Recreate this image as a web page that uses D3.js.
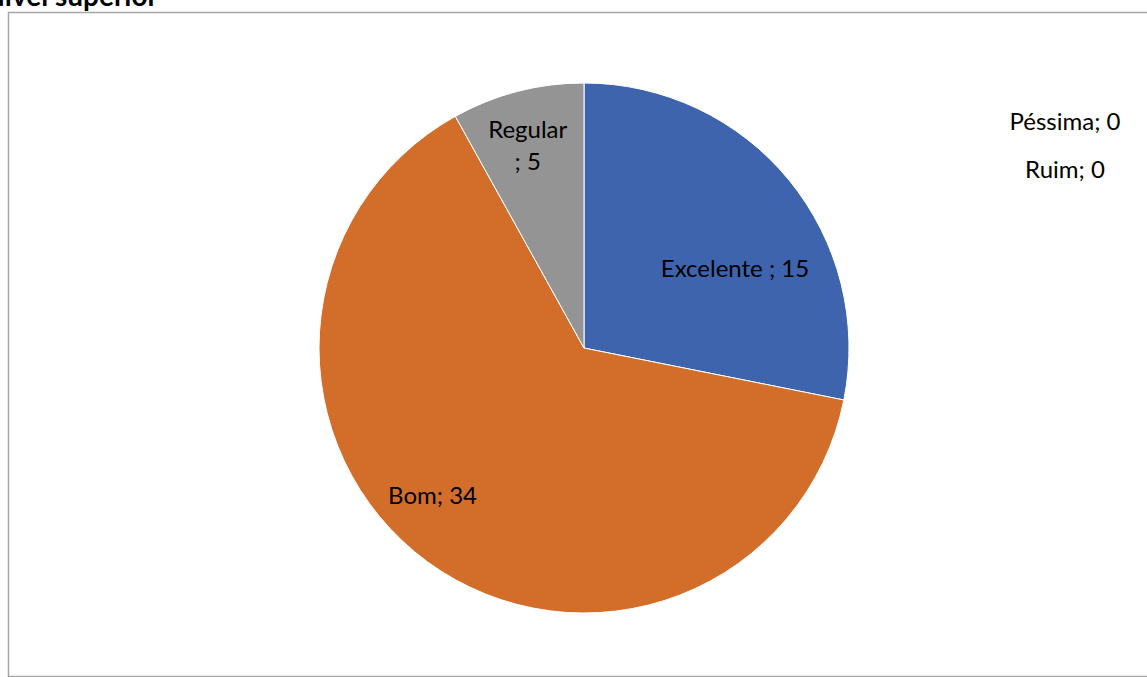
<!DOCTYPE html>
<html>
<head>
<meta charset="utf-8">
<script src="https://cdn.jsdelivr.net/npm/d3@7"></script>
<style>
  body { margin: 0; background: #fff; }
  svg { display: block; }
</style>
</head>
<body>
<div id="chart"></div>
<script>
// Dados do gráfico
const categorias = ["Excelente", "Bom", "Regular", "Péssima", "Ruim"];
const valores = [15, 34, 4.3, 0, 0];          // tamanho das fatias
const rotulos = ["Excelente ; 15", "Bom; 34", "Regular\n; 5", "Péssima; 0", "Ruim; 0"];
const cores = ["#3d64ad", "#d36e2a", "#949494", "#ffc000", "#5b9bd5"];

const W = 1147, H = 677;
const cx = 584, cy = 348, r = 265;
const fonte = "Lato, 'Open Sans', sans-serif";

const svg = d3.select("#chart").append("svg")
    .attr("width", W)
    .attr("height", H);

// moldura do gráfico (cortada pela janela)
svg.append("rect")
    .attr("x", 8.5).attr("y", 12.5)
    .attr("width", W + 20).attr("height", 664)
    .attr("fill", "none")
    .attr("stroke", "#a6a6a6")
    .attr("stroke-width", 1.5);

// título cortado no topo
svg.append("text")
    .attr("x", 158).attr("y", 6)
    .attr("text-anchor", "end")
    .style("font-family", fonte)
    .style("font-weight", "bold")
    .style("font-size", "28px")
    .text("Nível superior");

const dados = categorias.map((c, i) => ({ cat: c, v: valores[i], label: rotulos[i], cor: cores[i] }));

const pie = d3.pie().value(d => d.v).sort(null);
const arc = d3.arc().innerRadius(0).outerRadius(r);

const g = svg.append("g").attr("transform", `translate(${cx},${cy})`);
const arcs = pie(dados);

g.selectAll("path")
    .data(arcs.filter(a => a.data.v > 0))
    .enter().append("path")
    .attr("d", arc)
    .attr("fill", a => a.data.cor)
    .attr("stroke", "#fff")
    .attr("stroke-width", 1);

// posição dos rótulos (ângulo em graus a partir do topo, fração do raio)
const posRotulo = {
    "Excelente": { ang: 62.4, k: 0.643 },
    "Bom": { ang: 225.6, k: 0.80 },
    "Regular": { ang: -15.6, k: 0.79 }
};
arcs.filter(a => a.data.v > 0).forEach(a => {
    const p = posRotulo[a.data.cat];
    const ang = p.ang * Math.PI / 180;
    const x = Math.sin(ang) * r * p.k, y = -Math.cos(ang) * r * p.k;
    const linhas = a.data.label.split("\n");
    const t = g.append("text")
        .attr("text-anchor", "middle")
        .style("font-family", fonte)
        .style("font-size", "24px")
        .attr("fill", "#000");
    linhas.forEach((l, i) => {
        t.append("tspan")
            .attr("x", x)
            .attr("y", y + (i - (linhas.length - 1) / 2) * 32 + 8)
            .text(l);
    });
});

// rótulos das fatias de valor zero, à direita
arcs.filter(a => a.data.v === 0).forEach((a, i) => {
    g.append("text")
        .attr("x", r + 216)
        .attr("y", -218 + i * 48)
        .attr("text-anchor", "middle")
        .style("font-family", fonte)
        .style("font-size", "24px")
        .attr("fill", "#000")
        .text(a.data.label);
});
</script>
</body>
</html>
